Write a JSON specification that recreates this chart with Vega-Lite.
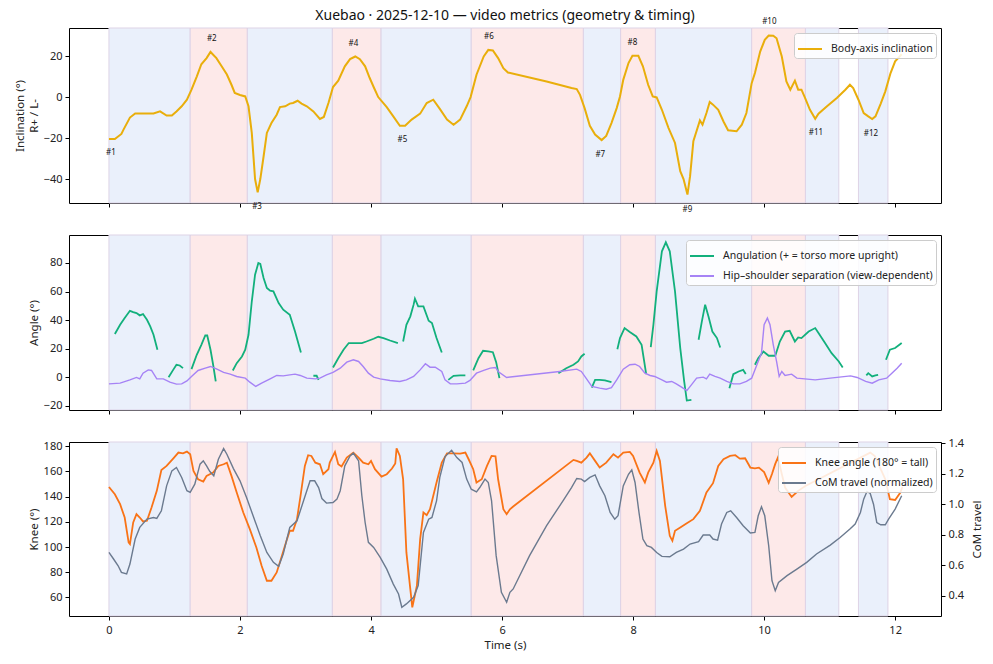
{
  "$schema": "https://vega.github.io/schema/vega-lite/v6.json",
  "title": {"text": "Xuebao · 2025-12-10 — video metrics (geometry & timing)", "fontSize": 14, "fontWeight": "normal", "anchor": "middle", "frame": "group", "offset": -5, "color": "#111"},
  "padding": {"left": 14, "top": 8, "right": 5, "bottom": 5},
  "datasets": {
    "bands": [
      {"side": "L", "start": 0, "end": 1.24},
      {"side": "R", "start": 1.24, "end": 2.11},
      {"side": "L", "start": 2.11, "end": 3.41},
      {"side": "R", "start": 3.41, "end": 4.15},
      {"side": "L", "start": 4.15, "end": 5.53},
      {"side": "R", "start": 5.53, "end": 7.24},
      {"side": "L", "start": 7.24, "end": 7.81},
      {"side": "R", "start": 7.81, "end": 8.34},
      {"side": "L", "start": 8.34, "end": 9.81},
      {"side": "R", "start": 9.81, "end": 10.63},
      {"side": "L", "start": 10.63, "end": 11.14},
      {"side": "L", "start": 11.44, "end": 11.89}
    ],
    "incl": [
      {"t": 0.00, "v": -20.5}, {"t": 0.09, "v": -20.5}, {"t": 0.19, "v": -18}, {"t": 0.22, "v": -16},
      {"t": 0.32, "v": -10}, {"t": 0.40, "v": -8}, {"t": 0.52, "v": -8}, {"t": 0.68, "v": -8},
      {"t": 0.78, "v": -7}, {"t": 0.88, "v": -9}, {"t": 0.96, "v": -9}, {"t": 1.03, "v": -7},
      {"t": 1.11, "v": -4.5}, {"t": 1.19, "v": -1.3}, {"t": 1.26, "v": 3.6}, {"t": 1.34, "v": 10},
      {"t": 1.41, "v": 16}, {"t": 1.49, "v": 19}, {"t": 1.55, "v": 22}, {"t": 1.64, "v": 19},
      {"t": 1.72, "v": 15}, {"t": 1.80, "v": 11}, {"t": 1.87, "v": 6}, {"t": 1.92, "v": 2},
      {"t": 2.00, "v": 1}, {"t": 2.08, "v": 0.3}, {"t": 2.13, "v": -4.5}, {"t": 2.18, "v": -17.5},
      {"t": 2.23, "v": -40}, {"t": 2.27, "v": -46.5}, {"t": 2.31, "v": -40}, {"t": 2.36, "v": -29},
      {"t": 2.41, "v": -17.5}, {"t": 2.48, "v": -12.7}, {"t": 2.56, "v": -8.6}, {"t": 2.61, "v": -4.9},
      {"t": 2.69, "v": -4.5}, {"t": 2.76, "v": -3.2}, {"t": 2.81, "v": -2.9}, {"t": 2.88, "v": -1.8},
      {"t": 2.94, "v": -3.2}, {"t": 3.02, "v": -4.5}, {"t": 3.12, "v": -7}, {"t": 3.22, "v": -10.7},
      {"t": 3.28, "v": -9.7}, {"t": 3.35, "v": -2.9}, {"t": 3.42, "v": 4.9}, {"t": 3.50, "v": 8},
      {"t": 3.60, "v": 15}, {"t": 3.68, "v": 18.5}, {"t": 3.76, "v": 19.8}, {"t": 3.83, "v": 18.5},
      {"t": 3.91, "v": 15}, {"t": 3.98, "v": 9.3}, {"t": 4.04, "v": 4.9}, {"t": 4.11, "v": 0},
      {"t": 4.24, "v": -4.9}, {"t": 4.34, "v": -9.4}, {"t": 4.44, "v": -14}, {"t": 4.52, "v": -14},
      {"t": 4.62, "v": -11}, {"t": 4.75, "v": -8.1}, {"t": 4.85, "v": -2.9}, {"t": 4.95, "v": -1.3},
      {"t": 5.05, "v": -5.8}, {"t": 5.16, "v": -11}, {"t": 5.26, "v": -13.5}, {"t": 5.36, "v": -11},
      {"t": 5.46, "v": -4.5}, {"t": 5.52, "v": 0}, {"t": 5.61, "v": 10.9}, {"t": 5.72, "v": 19.8},
      {"t": 5.79, "v": 23}, {"t": 5.86, "v": 22.7}, {"t": 5.94, "v": 19}, {"t": 6.02, "v": 14.1},
      {"t": 6.09, "v": 12}, {"t": 6.68, "v": 7.6}, {"t": 7.06, "v": 4.4}, {"t": 7.14, "v": 3.9},
      {"t": 7.19, "v": 1.1}, {"t": 7.26, "v": -5.4}, {"t": 7.34, "v": -14}, {"t": 7.42, "v": -18.3},
      {"t": 7.52, "v": -21}, {"t": 7.59, "v": -19}, {"t": 7.67, "v": -12.7}, {"t": 7.75, "v": -5.4},
      {"t": 7.80, "v": 0.3}, {"t": 7.85, "v": 8.4}, {"t": 7.93, "v": 16.6}, {"t": 7.99, "v": 20.1},
      {"t": 8.08, "v": 20.1}, {"t": 8.15, "v": 15}, {"t": 8.23, "v": 6}, {"t": 8.30, "v": 0.3},
      {"t": 8.36, "v": -0.2}, {"t": 8.44, "v": -6.2}, {"t": 8.54, "v": -15}, {"t": 8.64, "v": -22.4},
      {"t": 8.72, "v": -36.2}, {"t": 8.77, "v": -40}, {"t": 8.83, "v": -47.6}, {"t": 8.87, "v": -38.6},
      {"t": 8.92, "v": -21.6}, {"t": 9.02, "v": -11.4}, {"t": 9.06, "v": -13.5}, {"t": 9.12, "v": -7.8},
      {"t": 9.17, "v": -2.4}, {"t": 9.22, "v": -3.7}, {"t": 9.30, "v": -6.2}, {"t": 9.38, "v": -11.9},
      {"t": 9.45, "v": -16.2}, {"t": 9.58, "v": -16.7}, {"t": 9.66, "v": -13.5}, {"t": 9.73, "v": -7.8},
      {"t": 9.81, "v": 6.8}, {"t": 9.86, "v": 11.7}, {"t": 9.94, "v": 22.2}, {"t": 10.01, "v": 27.9},
      {"t": 10.07, "v": 30}, {"t": 10.14, "v": 29.9}, {"t": 10.19, "v": 28.7}, {"t": 10.27, "v": 19.8},
      {"t": 10.34, "v": 7.6}, {"t": 10.40, "v": 3.6}, {"t": 10.47, "v": 8}, {"t": 10.52, "v": 3.6},
      {"t": 10.57, "v": 3.6}, {"t": 10.62, "v": 0}, {"t": 10.70, "v": -6.2}, {"t": 10.78, "v": -10.6},
      {"t": 10.83, "v": -8.1}, {"t": 10.96, "v": -4.5}, {"t": 11.11, "v": -0.5}, {"t": 11.24, "v": 3.6},
      {"t": 11.31, "v": 6}, {"t": 11.36, "v": 4.4}, {"t": 11.44, "v": -1.3}, {"t": 11.52, "v": -7.8},
      {"t": 11.59, "v": -9.4}, {"t": 11.65, "v": -10.7}, {"t": 11.70, "v": -9.4}, {"t": 11.78, "v": -3.2},
      {"t": 11.85, "v": 2.8}, {"t": 11.93, "v": 11.7}, {"t": 12.00, "v": 17.4}, {"t": 12.10, "v": 20.9}
    ],
    "marks": [
      {"label": "#1", "t": 0.03, "v": -27.3},
      {"label": "#2", "t": 1.57, "v": 28.4},
      {"label": "#3", "t": 2.26, "v": -53.6},
      {"label": "#4", "t": 3.73, "v": 26},
      {"label": "#5", "t": 4.48, "v": -21.1},
      {"label": "#6", "t": 5.80, "v": 29.5},
      {"label": "#7", "t": 7.50, "v": -28.1},
      {"label": "#8", "t": 7.99, "v": 26.6},
      {"label": "#9", "t": 8.83, "v": -54.9},
      {"label": "#10", "t": 10.08, "v": 36.4},
      {"label": "#11", "t": 10.79, "v": -17.5},
      {"label": "#12", "t": 11.63, "v": -18}
    ],
    "ang": [
      {"seg": 1, "t": 0.09, "v": 30.2}, {"seg": 1, "t": 0.17, "v": 36.7}, {"seg": 1, "t": 0.24, "v": 41.4}, {"seg": 1, "t": 0.32, "v": 46.5},
      {"seg": 1, "t": 0.37, "v": 45.6}, {"seg": 1, "t": 0.42, "v": 44.9}, {"seg": 1, "t": 0.47, "v": 43.3}, {"seg": 1, "t": 0.52, "v": 44.2},
      {"seg": 1, "t": 0.58, "v": 40.2}, {"seg": 1, "t": 0.63, "v": 35.6}, {"seg": 1, "t": 0.68, "v": 29.7}, {"seg": 1, "t": 0.74, "v": 19.2},
      {"seg": 2, "t": 0.91, "v": 0}, {"seg": 2, "t": 0.98, "v": 5.1}, {"seg": 2, "t": 1.03, "v": 8.7}, {"seg": 2, "t": 1.08, "v": 8.2}, {"seg": 2, "t": 1.13, "v": 6.3},
      {"seg": 3, "t": 1.26, "v": 5.6}, {"seg": 3, "t": 1.34, "v": 15.7}, {"seg": 3, "t": 1.41, "v": 22.7}, {"seg": 3, "t": 1.47, "v": 29.2},
      {"seg": 3, "t": 1.50, "v": 29.2}, {"seg": 3, "t": 1.55, "v": 19.2}, {"seg": 3, "t": 1.59, "v": 8.7}, {"seg": 3, "t": 1.63, "v": -3},
      {"seg": 4, "t": 1.89, "v": 4.7}, {"seg": 4, "t": 1.95, "v": 9.8}, {"seg": 4, "t": 2.03, "v": 14.5}, {"seg": 4, "t": 2.08, "v": 19.2},
      {"seg": 4, "t": 2.13, "v": 29.7}, {"seg": 4, "t": 2.18, "v": 53}, {"seg": 4, "t": 2.23, "v": 71.8}, {"seg": 4, "t": 2.28, "v": 80},
      {"seg": 4, "t": 2.31, "v": 79.3}, {"seg": 4, "t": 2.36, "v": 69.5}, {"seg": 4, "t": 2.41, "v": 62.5}, {"seg": 4, "t": 2.46, "v": 60.6},
      {"seg": 4, "t": 2.51, "v": 60.1}, {"seg": 4, "t": 2.59, "v": 51.9}, {"seg": 4, "t": 2.66, "v": 47.3}, {"seg": 4, "t": 2.76, "v": 43.7},
      {"seg": 4, "t": 2.84, "v": 32}, {"seg": 4, "t": 2.93, "v": 17.3},
      {"seg": 5, "t": 3.12, "v": 1}, {"seg": 5, "t": 3.17, "v": 1}, {"seg": 5, "t": 3.20, "v": -1.9},
      {"seg": 6, "t": 3.42, "v": 6.8}, {"seg": 6, "t": 3.50, "v": 13.3}, {"seg": 6, "t": 3.58, "v": 19.2}, {"seg": 6, "t": 3.66, "v": 23.9},
      {"seg": 6, "t": 3.76, "v": 23.9}, {"seg": 6, "t": 3.86, "v": 23.9}, {"seg": 6, "t": 3.93, "v": 25}, {"seg": 6, "t": 4.04, "v": 26.9},
      {"seg": 6, "t": 4.11, "v": 28.3}, {"seg": 6, "t": 4.19, "v": 27.4}, {"seg": 6, "t": 4.29, "v": 25.7}, {"seg": 6, "t": 4.41, "v": 23.9},
      {"seg": 7, "t": 4.49, "v": 25}, {"seg": 7, "t": 4.54, "v": 36.7}, {"seg": 7, "t": 4.60, "v": 42.6}, {"seg": 7, "t": 4.65, "v": 50.8},
      {"seg": 7, "t": 4.67, "v": 55}, {"seg": 7, "t": 4.72, "v": 49.6}, {"seg": 7, "t": 4.80, "v": 49.6}, {"seg": 7, "t": 4.88, "v": 39.5},
      {"seg": 7, "t": 4.93, "v": 37.9}, {"seg": 7, "t": 5.00, "v": 27.4}, {"seg": 7, "t": 5.08, "v": 17.3},
      {"seg": 8, "t": 5.18, "v": -1.9}, {"seg": 8, "t": 5.26, "v": 0.9}, {"seg": 8, "t": 5.36, "v": 1.2}, {"seg": 8, "t": 5.44, "v": 1.2},
      {"seg": 9, "t": 5.56, "v": 4.7}, {"seg": 9, "t": 5.64, "v": 13.3}, {"seg": 9, "t": 5.71, "v": 18.5}, {"seg": 9, "t": 5.79, "v": 18},
      {"seg": 9, "t": 5.86, "v": 17.5}, {"seg": 9, "t": 5.91, "v": 10.5}, {"seg": 9, "t": 5.96, "v": -0.7},
      {"seg": 10, "t": 6.86, "v": 2.8}, {"seg": 10, "t": 6.98, "v": 6.3}, {"seg": 10, "t": 7.09, "v": 8.7}, {"seg": 10, "t": 7.16, "v": 11},
      {"seg": 10, "t": 7.21, "v": 14.5}, {"seg": 10, "t": 7.26, "v": 16.4},
      {"seg": 11, "t": 7.37, "v": -7.3}, {"seg": 11, "t": 7.42, "v": -1.9}, {"seg": 11, "t": 7.49, "v": -1.9}, {"seg": 11, "t": 7.57, "v": -2.3}, {"seg": 11, "t": 7.67, "v": -3.5},
      {"seg": 12, "t": 7.76, "v": 19.6}, {"seg": 12, "t": 7.80, "v": 27.4}, {"seg": 12, "t": 7.87, "v": 34.4}, {"seg": 12, "t": 7.95, "v": 31.6},
      {"seg": 12, "t": 8.05, "v": 28.5}, {"seg": 12, "t": 8.13, "v": 22.7}, {"seg": 12, "t": 8.20, "v": 2.1},
      {"seg": 13, "t": 8.27, "v": 21}, {"seg": 13, "t": 8.31, "v": 36.7}, {"seg": 13, "t": 8.36, "v": 60.1}, {"seg": 13, "t": 8.44, "v": 88.2},
      {"seg": 13, "t": 8.50, "v": 94.5}, {"seg": 13, "t": 8.56, "v": 88.2}, {"seg": 13, "t": 8.64, "v": 60.1}, {"seg": 13, "t": 8.72, "v": 20.4},
      {"seg": 13, "t": 8.78, "v": -3}, {"seg": 13, "t": 8.82, "v": -16.4}, {"seg": 13, "t": 8.89, "v": -15.9},
      {"seg": 14, "t": 9.00, "v": 26.2}, {"seg": 14, "t": 9.05, "v": 39.1}, {"seg": 14, "t": 9.10, "v": 50.8}, {"seg": 14, "t": 9.15, "v": 42.6},
      {"seg": 14, "t": 9.21, "v": 32}, {"seg": 14, "t": 9.28, "v": 27.4}, {"seg": 14, "t": 9.33, "v": 20.8},
      {"seg": 15, "t": 9.47, "v": -7.7}, {"seg": 15, "t": 9.53, "v": 2.1}, {"seg": 15, "t": 9.61, "v": 4}, {"seg": 15, "t": 9.68, "v": 5.1}, {"seg": 15, "t": 9.72, "v": 2.3},
      {"seg": 16, "t": 9.86, "v": 8.7}, {"seg": 16, "t": 9.91, "v": 13.3}, {"seg": 16, "t": 9.99, "v": 18}, {"seg": 16, "t": 10.07, "v": 15},
      {"seg": 16, "t": 10.17, "v": 15}, {"seg": 16, "t": 10.24, "v": 25}, {"seg": 16, "t": 10.32, "v": 32}, {"seg": 16, "t": 10.39, "v": 32.5},
      {"seg": 16, "t": 10.47, "v": 25}, {"seg": 16, "t": 10.52, "v": 27.8}, {"seg": 16, "t": 10.57, "v": 27.4}, {"seg": 16, "t": 10.68, "v": 32},
      {"seg": 16, "t": 10.78, "v": 34.4}, {"seg": 16, "t": 10.83, "v": 30.9}, {"seg": 16, "t": 10.93, "v": 23.9}, {"seg": 16, "t": 11.03, "v": 16.8},
      {"seg": 16, "t": 11.14, "v": 11}, {"seg": 16, "t": 11.20, "v": 6.8},
      {"seg": 17, "t": 11.56, "v": 1.2}, {"seg": 17, "t": 11.59, "v": 2.8}, {"seg": 17, "t": 11.65, "v": 0.5}, {"seg": 17, "t": 11.70, "v": 1.2}, {"seg": 17, "t": 11.74, "v": 1.6},
      {"seg": 18, "t": 11.86, "v": 12.2}, {"seg": 18, "t": 11.92, "v": 19.2}, {"seg": 18, "t": 12.00, "v": 20.4}, {"seg": 18, "t": 12.10, "v": 23.9}
    ],
    "hss": [
      {"t": 0.00, "v": -4.7}, {"t": 0.17, "v": -4.2}, {"t": 0.32, "v": -1.9}, {"t": 0.42, "v": -0.2}, {"t": 0.47, "v": -1.2},
      {"t": 0.52, "v": 2.8}, {"t": 0.60, "v": 5.1}, {"t": 0.65, "v": 4.7}, {"t": 0.73, "v": -1.2}, {"t": 0.83, "v": -1.2},
      {"t": 0.93, "v": -3.5}, {"t": 1.03, "v": -4.9}, {"t": 1.11, "v": -4.7}, {"t": 1.19, "v": -2.6}, {"t": 1.26, "v": 0.5},
      {"t": 1.36, "v": 4.7}, {"t": 1.47, "v": 6.3}, {"t": 1.55, "v": 7.5}, {"t": 1.64, "v": 5.8}, {"t": 1.75, "v": 3.3},
      {"t": 1.85, "v": 2.1}, {"t": 1.95, "v": 0.5}, {"t": 2.08, "v": -0.7}, {"t": 2.15, "v": -3.5}, {"t": 2.24, "v": -6.5},
      {"t": 2.33, "v": -4.2}, {"t": 2.46, "v": -1.2}, {"t": 2.56, "v": 1.2}, {"t": 2.66, "v": 0.9}, {"t": 2.76, "v": 1.6},
      {"t": 2.84, "v": 2.1}, {"t": 2.92, "v": 1.2}, {"t": 3.02, "v": -0.7}, {"t": 3.15, "v": -1.2}, {"t": 3.22, "v": -0.7},
      {"t": 3.32, "v": 1.6}, {"t": 3.42, "v": 3.3}, {"t": 3.53, "v": 6.3}, {"t": 3.63, "v": 10.5}, {"t": 3.73, "v": 12.2},
      {"t": 3.81, "v": 11}, {"t": 3.88, "v": 7.5}, {"t": 3.96, "v": 2.8}, {"t": 4.04, "v": 0}, {"t": 4.14, "v": -1.2},
      {"t": 4.29, "v": -2.3}, {"t": 4.44, "v": -3}, {"t": 4.54, "v": -1.9}, {"t": 4.65, "v": 0.5}, {"t": 4.75, "v": 5.1},
      {"t": 4.83, "v": 9.4}, {"t": 4.90, "v": 7}, {"t": 4.98, "v": 7}, {"t": 5.08, "v": 4}, {"t": 5.13, "v": -1.9},
      {"t": 5.21, "v": -4.7}, {"t": 5.31, "v": -4.7}, {"t": 5.44, "v": -4.2}, {"t": 5.51, "v": -2.3}, {"t": 5.61, "v": 2.8},
      {"t": 5.72, "v": 4.7}, {"t": 5.82, "v": 6.3}, {"t": 5.90, "v": 6.8}, {"t": 5.94, "v": 4}, {"t": 6.07, "v": -0.2},
      {"t": 6.88, "v": 4}, {"t": 7.14, "v": 5.6}, {"t": 7.21, "v": 4}, {"t": 7.29, "v": -1.2}, {"t": 7.37, "v": -6.5},
      {"t": 7.49, "v": -7.7}, {"t": 7.59, "v": -8.4}, {"t": 7.67, "v": -7.3}, {"t": 7.75, "v": -1.9}, {"t": 7.85, "v": 5.6},
      {"t": 7.95, "v": 8.7}, {"t": 8.03, "v": 9.1}, {"t": 8.10, "v": 7.5}, {"t": 8.18, "v": 2.8}, {"t": 8.26, "v": 1.2},
      {"t": 8.33, "v": 0.5}, {"t": 8.44, "v": -1.9}, {"t": 8.51, "v": -3.5}, {"t": 8.59, "v": -3}, {"t": 8.66, "v": -4.7},
      {"t": 8.74, "v": -7}, {"t": 8.82, "v": -9.4}, {"t": 8.89, "v": -5.4}, {"t": 8.97, "v": -0.7}, {"t": 9.07, "v": 0},
      {"t": 9.12, "v": -1.2}, {"t": 9.17, "v": 2.1}, {"t": 9.25, "v": 0.5}, {"t": 9.33, "v": -0.7}, {"t": 9.43, "v": -3},
      {"t": 9.53, "v": -4.7}, {"t": 9.63, "v": -4.7}, {"t": 9.73, "v": -3}, {"t": 9.81, "v": -0.7}, {"t": 9.89, "v": 8.7},
      {"t": 9.96, "v": 16.8}, {"t": 10.00, "v": 36.7}, {"t": 10.05, "v": 41.4}, {"t": 10.09, "v": 36.7}, {"t": 10.14, "v": 22.7},
      {"t": 10.19, "v": 11}, {"t": 10.23, "v": 0.5}, {"t": 10.27, "v": 4}, {"t": 10.32, "v": 1.2}, {"t": 10.42, "v": 2.1},
      {"t": 10.50, "v": -0.7}, {"t": 10.62, "v": -1.2}, {"t": 10.78, "v": -1.9}, {"t": 11.01, "v": -0.7}, {"t": 11.32, "v": 0.9},
      {"t": 11.42, "v": -0.2}, {"t": 11.55, "v": -3}, {"t": 11.65, "v": -4.2}, {"t": 11.75, "v": -1.9}, {"t": 11.87, "v": -0.7},
      {"t": 11.95, "v": 2.8}, {"t": 12.03, "v": 6.3}, {"t": 12.10, "v": 9.8}
    ],
    "knee": [
      {"t": 0.00, "v": 147.7}, {"t": 0.09, "v": 141.9}, {"t": 0.17, "v": 134}, {"t": 0.24, "v": 123.4}, {"t": 0.30, "v": 103.6},
      {"t": 0.32, "v": 102.3}, {"t": 0.37, "v": 119.5}, {"t": 0.42, "v": 126.1}, {"t": 0.47, "v": 123.4}, {"t": 0.52, "v": 120.3},
      {"t": 0.58, "v": 120.8}, {"t": 0.65, "v": 131.4}, {"t": 0.73, "v": 144.6}, {"t": 0.80, "v": 161.2}, {"t": 0.88, "v": 164.4},
      {"t": 0.98, "v": 170.2}, {"t": 1.06, "v": 175}, {"t": 1.13, "v": 174.4}, {"t": 1.19, "v": 175.8}, {"t": 1.24, "v": 173.7},
      {"t": 1.29, "v": 160.4}, {"t": 1.36, "v": 153.8}, {"t": 1.44, "v": 152}, {"t": 1.49, "v": 156.5}, {"t": 1.59, "v": 159.1},
      {"t": 1.67, "v": 164.4}, {"t": 1.75, "v": 165.7}, {"t": 1.80, "v": 167}, {"t": 1.87, "v": 156.5}, {"t": 1.95, "v": 143.3},
      {"t": 2.05, "v": 127.4}, {"t": 2.15, "v": 114.2}, {"t": 2.25, "v": 99.6}, {"t": 2.33, "v": 85.1}, {"t": 2.41, "v": 73.2},
      {"t": 2.48, "v": 73.2}, {"t": 2.56, "v": 79.8}, {"t": 2.64, "v": 93}, {"t": 2.71, "v": 104.9}, {"t": 2.76, "v": 112.9},
      {"t": 2.81, "v": 112.9}, {"t": 2.87, "v": 122.1}, {"t": 2.92, "v": 139.3}, {"t": 2.99, "v": 164.4}, {"t": 3.04, "v": 172.9},
      {"t": 3.09, "v": 172.3}, {"t": 3.15, "v": 167}, {"t": 3.22, "v": 165.7}, {"t": 3.27, "v": 157.8}, {"t": 3.35, "v": 161.8},
      {"t": 3.37, "v": 167}, {"t": 3.42, "v": 172.3}, {"t": 3.45, "v": 175.5}, {"t": 3.50, "v": 165.7}, {"t": 3.55, "v": 163.9},
      {"t": 3.63, "v": 171}, {"t": 3.73, "v": 175}, {"t": 3.81, "v": 171}, {"t": 3.88, "v": 167}, {"t": 3.96, "v": 165.7},
      {"t": 4.00, "v": 168.4}, {"t": 4.06, "v": 161.8}, {"t": 4.16, "v": 155.9}, {"t": 4.24, "v": 157.8}, {"t": 4.32, "v": 162.3},
      {"t": 4.37, "v": 166.3}, {"t": 4.39, "v": 178.4}, {"t": 4.44, "v": 172.3}, {"t": 4.49, "v": 153.8}, {"t": 4.54, "v": 95.7},
      {"t": 4.60, "v": 66.6}, {"t": 4.63, "v": 52.1}, {"t": 4.70, "v": 69.2}, {"t": 4.75, "v": 106.3}, {"t": 4.80, "v": 127.4},
      {"t": 4.85, "v": 125.3}, {"t": 4.90, "v": 130}, {"t": 5.00, "v": 151.2}, {"t": 5.08, "v": 167}, {"t": 5.16, "v": 174.4},
      {"t": 5.26, "v": 174.4}, {"t": 5.36, "v": 174.2}, {"t": 5.44, "v": 175}, {"t": 5.49, "v": 169.7}, {"t": 5.56, "v": 161.8},
      {"t": 5.61, "v": 151.2}, {"t": 5.69, "v": 153.8}, {"t": 5.77, "v": 164.4}, {"t": 5.84, "v": 172.3}, {"t": 5.90, "v": 172},
      {"t": 5.94, "v": 153.8}, {"t": 6.02, "v": 130}, {"t": 6.07, "v": 126.1}, {"t": 6.12, "v": 130}, {"t": 6.17, "v": 132.2},
      {"t": 7.09, "v": 169.2}, {"t": 7.14, "v": 168.4}, {"t": 7.21, "v": 167}, {"t": 7.29, "v": 171}, {"t": 7.34, "v": 174.4},
      {"t": 7.42, "v": 168.4}, {"t": 7.49, "v": 163.1}, {"t": 7.59, "v": 167}, {"t": 7.70, "v": 173.7}, {"t": 7.77, "v": 171},
      {"t": 7.85, "v": 175}, {"t": 7.95, "v": 175.5}, {"t": 8.00, "v": 172.3}, {"t": 8.10, "v": 159.1}, {"t": 8.18, "v": 151.2},
      {"t": 8.23, "v": 159.1}, {"t": 8.31, "v": 167}, {"t": 8.36, "v": 176.3}, {"t": 8.41, "v": 168.4}, {"t": 8.49, "v": 132.7},
      {"t": 8.56, "v": 108.9}, {"t": 8.60, "v": 104.9}, {"t": 8.64, "v": 112.9}, {"t": 8.72, "v": 115.5}, {"t": 8.82, "v": 118.9},
      {"t": 8.92, "v": 122.1}, {"t": 9.02, "v": 128.7}, {"t": 9.12, "v": 143.3}, {"t": 9.22, "v": 150.7}, {"t": 9.30, "v": 164.4},
      {"t": 9.38, "v": 169.7}, {"t": 9.48, "v": 172.3}, {"t": 9.56, "v": 172.9}, {"t": 9.63, "v": 170.2}, {"t": 9.71, "v": 170.5},
      {"t": 9.79, "v": 163.1}, {"t": 9.86, "v": 162.5}, {"t": 9.92, "v": 163}, {"t": 10.00, "v": 159.5}, {"t": 10.07, "v": 151},
      {"t": 10.12, "v": 158}, {"t": 10.17, "v": 166}, {"t": 10.21, "v": 171}, {"t": 10.27, "v": 158}, {"t": 10.32, "v": 147.2},
      {"t": 10.42, "v": 139.8}, {"t": 10.52, "v": 144.6}, {"t": 10.63, "v": 148.5}, {"t": 11.62, "v": 175}, {"t": 11.69, "v": 172.3},
      {"t": 11.85, "v": 153.8}, {"t": 11.92, "v": 138}, {"t": 12.00, "v": 137.4}, {"t": 12.08, "v": 143.3}, {"t": 12.11, "v": 147.7}
    ],
    "com": [
      {"t": 0.00, "v": 0.685}, {"t": 0.07, "v": 0.642}, {"t": 0.14, "v": 0.598}, {"t": 0.19, "v": 0.555}, {"t": 0.27, "v": 0.544},
      {"t": 0.32, "v": 0.609}, {"t": 0.40, "v": 0.773}, {"t": 0.47, "v": 0.849}, {"t": 0.58, "v": 0.903}, {"t": 0.68, "v": 0.914},
      {"t": 0.73, "v": 0.908}, {"t": 0.80, "v": 0.958}, {"t": 0.88, "v": 1.121}, {"t": 0.96, "v": 1.219}, {"t": 1.03, "v": 1.241},
      {"t": 1.11, "v": 1.176}, {"t": 1.19, "v": 1.089}, {"t": 1.24, "v": 1.078}, {"t": 1.31, "v": 1.132}, {"t": 1.39, "v": 1.263},
      {"t": 1.44, "v": 1.285}, {"t": 1.49, "v": 1.252}, {"t": 1.54, "v": 1.215}, {"t": 1.60, "v": 1.187}, {"t": 1.67, "v": 1.295},
      {"t": 1.75, "v": 1.365}, {"t": 1.80, "v": 1.328}, {"t": 1.90, "v": 1.234}, {"t": 2.00, "v": 1.154}, {"t": 2.10, "v": 1.045},
      {"t": 2.20, "v": 0.925}, {"t": 2.31, "v": 0.794}, {"t": 2.41, "v": 0.685}, {"t": 2.51, "v": 0.62}, {"t": 2.59, "v": 0.594},
      {"t": 2.66, "v": 0.675}, {"t": 2.76, "v": 0.849}, {"t": 2.87, "v": 0.892}, {"t": 2.97, "v": 1.023}, {"t": 3.07, "v": 1.154},
      {"t": 3.14, "v": 1.154}, {"t": 3.20, "v": 1.11}, {"t": 3.25, "v": 1.038}, {"t": 3.32, "v": 1.008}, {"t": 3.42, "v": 1.012},
      {"t": 3.48, "v": 1.034}, {"t": 3.53, "v": 1.089}, {"t": 3.60, "v": 1.252}, {"t": 3.68, "v": 1.317}, {"t": 3.73, "v": 1.335},
      {"t": 3.81, "v": 1.285}, {"t": 3.86, "v": 1.056}, {"t": 3.91, "v": 0.881}, {"t": 3.96, "v": 0.751}, {"t": 4.04, "v": 0.718},
      {"t": 4.14, "v": 0.653}, {"t": 4.24, "v": 0.576}, {"t": 4.34, "v": 0.478}, {"t": 4.42, "v": 0.413}, {"t": 4.47, "v": 0.326},
      {"t": 4.54, "v": 0.348}, {"t": 4.65, "v": 0.391}, {"t": 4.72, "v": 0.468}, {"t": 4.80, "v": 0.816}, {"t": 4.88, "v": 0.903},
      {"t": 4.93, "v": 0.914}, {"t": 5.00, "v": 1.023}, {"t": 5.05, "v": 1.176}, {"t": 5.13, "v": 1.313}, {"t": 5.23, "v": 1.354},
      {"t": 5.31, "v": 1.306}, {"t": 5.39, "v": 1.274}, {"t": 5.46, "v": 1.165}, {"t": 5.53, "v": 1.099}, {"t": 5.61, "v": 1.082},
      {"t": 5.66, "v": 1.11}, {"t": 5.74, "v": 1.165}, {"t": 5.79, "v": 1.143}, {"t": 5.84, "v": 1.023}, {"t": 5.91, "v": 0.664},
      {"t": 5.99, "v": 0.424}, {"t": 6.07, "v": 0.359}, {"t": 6.12, "v": 0.424}, {"t": 6.17, "v": 0.446}, {"t": 6.42, "v": 0.664},
      {"t": 6.68, "v": 0.86}, {"t": 6.93, "v": 1.023}, {"t": 7.06, "v": 1.11}, {"t": 7.14, "v": 1.169}, {"t": 7.21, "v": 1.165},
      {"t": 7.26, "v": 1.149}, {"t": 7.34, "v": 1.176}, {"t": 7.42, "v": 1.193}, {"t": 7.49, "v": 1.121}, {"t": 7.57, "v": 1.056},
      {"t": 7.65, "v": 0.947}, {"t": 7.72, "v": 0.903}, {"t": 7.77, "v": 0.925}, {"t": 7.85, "v": 1.121}, {"t": 7.93, "v": 1.197},
      {"t": 7.98, "v": 1.226}, {"t": 8.03, "v": 1.143}, {"t": 8.09, "v": 0.947}, {"t": 8.15, "v": 0.773}, {"t": 8.21, "v": 0.729},
      {"t": 8.28, "v": 0.718}, {"t": 8.36, "v": 0.685}, {"t": 8.44, "v": 0.659}, {"t": 8.56, "v": 0.657}, {"t": 8.66, "v": 0.685},
      {"t": 8.77, "v": 0.707}, {"t": 8.87, "v": 0.74}, {"t": 9.00, "v": 0.755}, {"t": 9.07, "v": 0.799}, {"t": 9.17, "v": 0.799},
      {"t": 9.22, "v": 0.773}, {"t": 9.29, "v": 0.766}, {"t": 9.35, "v": 0.871}, {"t": 9.43, "v": 0.947}, {"t": 9.49, "v": 0.958},
      {"t": 9.58, "v": 0.914}, {"t": 9.68, "v": 0.86}, {"t": 9.79, "v": 0.812}, {"t": 9.86, "v": 0.816}, {"t": 9.91, "v": 0.925},
      {"t": 9.96, "v": 0.984}, {"t": 10.01, "v": 0.925}, {"t": 10.07, "v": 0.729}, {"t": 10.12, "v": 0.5}, {"t": 10.17, "v": 0.435},
      {"t": 10.22, "v": 0.489}, {"t": 10.35, "v": 0.533}, {"t": 10.50, "v": 0.576}, {"t": 10.65, "v": 0.62}, {"t": 10.80, "v": 0.675},
      {"t": 11.01, "v": 0.733}, {"t": 11.16, "v": 0.783}, {"t": 11.31, "v": 0.838}, {"t": 11.39, "v": 0.871}, {"t": 11.47, "v": 0.947},
      {"t": 11.52, "v": 1.034}, {"t": 11.57, "v": 1.084}, {"t": 11.62, "v": 1.071}, {"t": 11.67, "v": 1.001}, {"t": 11.72, "v": 0.881},
      {"t": 11.78, "v": 0.866}, {"t": 11.85, "v": 0.866}, {"t": 11.90, "v": 0.903}, {"t": 12.00, "v": 0.969}, {"t": 12.10, "v": 1.056}
    ]
  },
  "vconcat": [
    {
      "width": 872,
      "height": 175,
      "layer": [
        {
          "data": {"name": "bands"},
          "transform": [{"filter": "datum.side === 'L'"}],
          "mark": {"type": "rect", "color": "#eaf0fb", "stroke": "#ddd3e6", "strokeWidth": 1},
          "encoding": {
            "x": {"field": "start", "type": "quantitative", "scale": {"domain": [-0.61, 12.7], "nice": false, "zero": false}, "axis": {"values": [0, 2, 4, 6, 8, 10, 12], "format": "d", "labels": false, "title": null}},
            "x2": {"field": "end"}
          }
        },
        {
          "data": {"name": "bands"},
          "transform": [{"filter": "datum.side === 'R'"}],
          "mark": {"type": "rect", "color": "#fde9e9", "stroke": "#ddd3e6", "strokeWidth": 1},
          "encoding": {"x": {"field": "start", "type": "quantitative"}, "x2": {"field": "end"}}
        },
        {
          "mark": {"type": "rule", "color": "#888888", "strokeDash": [4, 3], "strokeWidth": 1},
          "encoding": {"y": {"datum": 0}}
        },
        {
          "data": {"name": "incl"},
          "mark": {"type": "line", "strokeWidth": 2},
          "encoding": {
            "x": {"field": "t", "type": "quantitative"},
            "y": {"field": "v", "type": "quantitative", "scale": {"domain": [-51.7, 33.7], "nice": false, "zero": false}, "axis": {"values": [-40, -20, 0, 20], "title": ["Inclination (°)", "R+ / L-"]}},
            "color": {"datum": "Body-axis inclination", "scale": {"domain": ["Body-axis inclination"], "range": ["#e9ae0b"]}, "legend": {"title": null}}
          }
        },
        {
          "data": {"name": "marks"},
          "mark": {"type": "text", "fontSize": 8, "color": "#111111", "baseline": "middle"},
          "encoding": {
            "x": {"field": "t", "type": "quantitative"},
            "y": {"field": "v", "type": "quantitative"},
            "text": {"field": "label"}
          }
        }
      ]
    },
    {
      "width": 872,
      "height": 175,
      "layer": [
        {
          "data": {"name": "bands"},
          "transform": [{"filter": "datum.side === 'L'"}],
          "mark": {"type": "rect", "color": "#eaf0fb", "stroke": "#ddd3e6", "strokeWidth": 1},
          "encoding": {
            "x": {"field": "start", "type": "quantitative", "scale": {"domain": [-0.61, 12.7], "nice": false, "zero": false}, "axis": {"values": [0, 2, 4, 6, 8, 10, 12], "format": "d", "labels": false, "title": null}},
            "x2": {"field": "end"}
          }
        },
        {
          "data": {"name": "bands"},
          "transform": [{"filter": "datum.side === 'R'"}],
          "mark": {"type": "rect", "color": "#fde9e9", "stroke": "#ddd3e6", "strokeWidth": 1},
          "encoding": {"x": {"field": "start", "type": "quantitative"}, "x2": {"field": "end"}}
        },
        {
          "mark": {"type": "rule", "color": "#888888", "strokeDash": [4, 3], "strokeWidth": 1},
          "encoding": {"y": {"datum": 0, "type": "quantitative", "scale": {"domain": [-23, 99.6], "nice": false, "zero": false}, "axis": {"values": [-20, 0, 20, 40, 60, 80], "format": "d", "labelOverlap": false, "title": "Angle (°)"}}}
        },
        {
          "data": {"name": "ang"},
          "mark": {"type": "line", "strokeWidth": 1.8},
          "encoding": {
            "x": {"field": "t", "type": "quantitative"},
            "y": {"field": "v", "type": "quantitative", "axis": {"values": [-20, 0, 20, 40, 60, 80], "format": "d", "labelOverlap": false, "title": "Angle (°)"}},
            "detail": {"field": "seg"},
            "color": {"datum": "Angulation (+ = torso more upright)", "scale": {"domain": ["Angulation (+ = torso more upright)", "Hip–shoulder separation (view-dependent)"], "range": ["#12b07c", "#a683f5"]}, "legend": {"title": null}}
          }
        },
        {
          "data": {"name": "hss"},
          "mark": {"type": "line", "strokeWidth": 1.4},
          "encoding": {
            "x": {"field": "t", "type": "quantitative"},
            "y": {"field": "v", "type": "quantitative", "axis": {"values": [-20, 0, 20, 40, 60, 80], "format": "d", "labelOverlap": false, "title": "Angle (°)"}},
            "color": {"datum": "Hip–shoulder separation (view-dependent)"}
          }
        }
      ]
    },
    {
      "width": 872,
      "height": 174,
      "layer": [
        {
          "layer": [
            {
              "data": {"name": "bands"},
              "transform": [{"filter": "datum.side === 'L'"}],
              "mark": {"type": "rect", "color": "#eaf0fb", "stroke": "#ddd3e6", "strokeWidth": 1},
              "encoding": {
                "x": {"field": "start", "type": "quantitative", "scale": {"domain": [-0.61, 12.7], "nice": false, "zero": false}, "axis": {"values": [0, 2, 4, 6, 8, 10, 12], "format": "d", "title": "Time (s)", "labelPadding": 4}},
                "x2": {"field": "end"}
              }
            },
            {
              "data": {"name": "bands"},
              "transform": [{"filter": "datum.side === 'R'"}],
              "mark": {"type": "rect", "color": "#fde9e9", "stroke": "#ddd3e6", "strokeWidth": 1},
              "encoding": {"x": {"field": "start", "type": "quantitative"}, "x2": {"field": "end"}}
            },
            {
              "data": {"name": "knee"},
              "mark": {"type": "line", "strokeWidth": 1.8},
              "encoding": {
                "x": {"field": "t", "type": "quantitative"},
                "y": {"field": "v", "type": "quantitative", "scale": {"domain": [45.2, 183.4], "nice": false, "zero": false}, "axis": {"values": [60, 80, 100, 120, 140, 160, 180], "format": "d", "labelOverlap": false, "title": "Knee (°)"}},
                "color": {"datum": "Knee angle (180° = tall)", "scale": {"domain": ["Knee angle (180° = tall)", "CoM travel (normalized)"], "range": ["#f97316", "#6b7a8f"]}, "legend": {"title": null}}
              }
            }
          ]
        },
        {
          "data": {"name": "com"},
          "mark": {"type": "line", "strokeWidth": 1.4},
          "encoding": {
            "x": {"field": "t", "type": "quantitative"},
            "y": {"field": "v", "type": "quantitative", "scale": {"domain": [0.269, 1.408], "nice": false, "zero": false}, "axis": {"orient": "right", "values": [0.4, 0.6, 0.8, 1.0, 1.2, 1.4], "format": ".1f", "labelOverlap": false, "title": "CoM travel", "titleAngle": -90, "titleBaseline": "top", "titlePadding": 8}},
            "color": {"datum": "CoM travel (normalized)"}
          }
        }
      ],
      "resolve": {"scale": {"y": "independent"}}
    }
  ],
  "spacing": 32,
  "bounds": "flush",
  "resolve": {"scale": {"color": "independent"}, "legend": {"color": "independent"}},
  "config": {
    "font": "Noto Sans",
    "view": {"stroke": "#000000", "strokeWidth": 1},
    "axis": {"domain": false, "grid": false, "tickColor": "#000000", "tickSize": 4, "labelFontSize": 11, "labelColor": "#222222", "titleFontSize": 11.5, "titleFontWeight": "normal", "titleColor": "#222222", "labelPadding": 3, "labelOverlap": false},
    "legend": {"orient": "top-right", "offset": 5, "fillColor": "rgba(255,255,255,0.85)", "strokeColor": "#cccccc", "cornerRadius": 3, "padding": 3, "labelFontSize": 10.5, "labelColor": "#222222", "symbolType": "stroke", "symbolSize": 576, "symbolStrokeWidth": 2, "labelLimit": 400, "rowPadding": 1, "labelOffset": 8}
  }
}
